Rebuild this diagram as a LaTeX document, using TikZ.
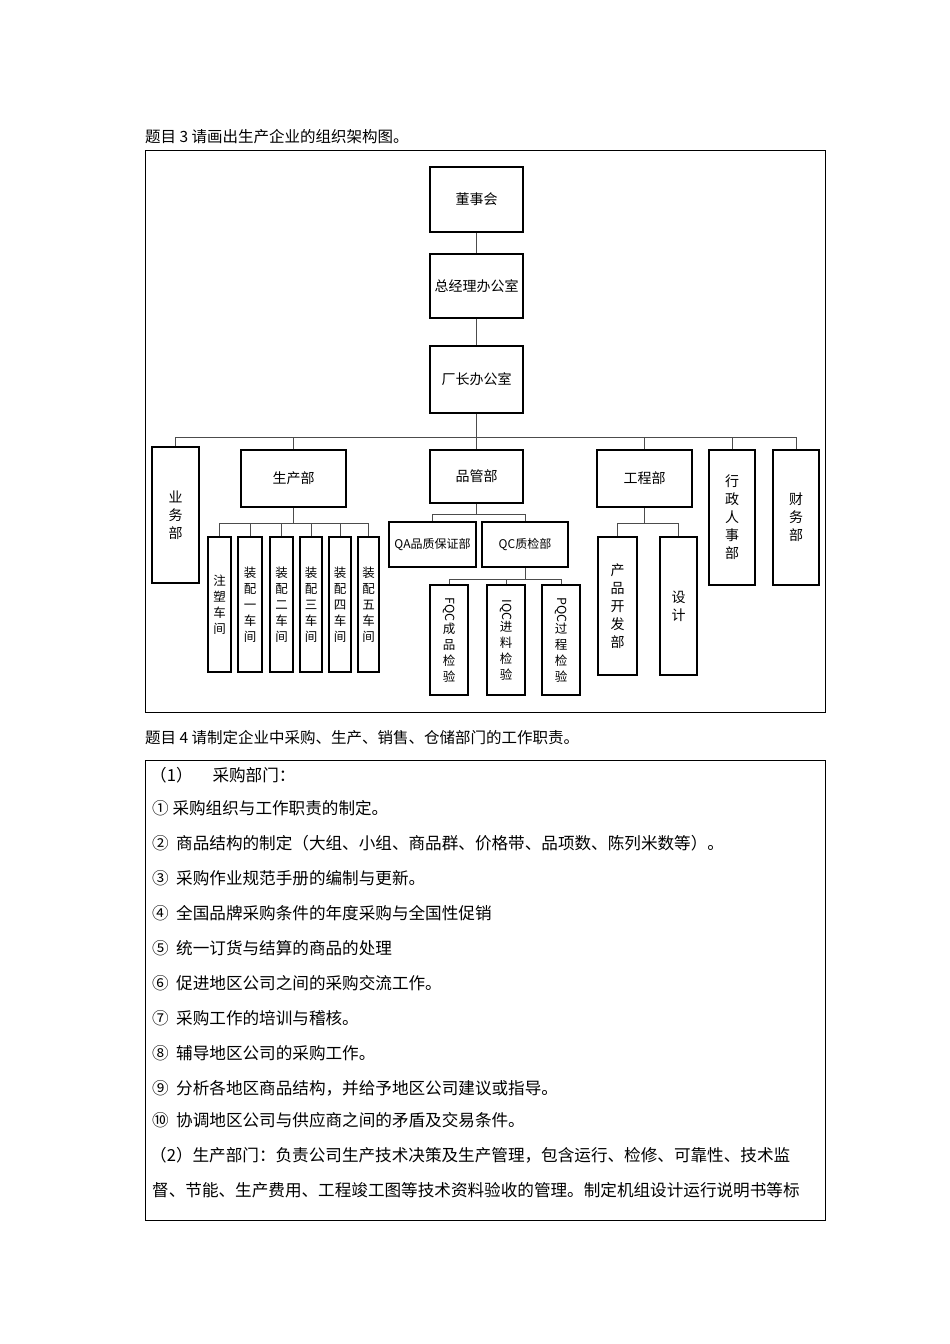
\documentclass[tikz,border=0pt]{standalone}
\usepackage{fontspec}
\usepackage{graphicx}
\newfontfamily\cjk{Noto Sans CJK SC}
\begin{document}
\begin{tikzpicture}[x=1pt,y=-1pt,
  bx/.style={draw,line width=1.6pt,inner sep=0pt,font=\cjk\fontsize{14}{18}\selectfont},
  ln/.style={line width=0.8pt,draw=black!70},
  txt/.style={anchor=west,inner sep=0pt,font=\cjk\fontsize{16.6}{18}\selectfont},
  ttl/.style={anchor=west,inner sep=0pt,font=\cjk\fontsize{15.5}{18}\selectfont}]
\useasboundingbox[fill=white] (0,0) rectangle (950,1344);
\node[ttl] (t3) at (145,137) {题目 3 请画出生产企业的组织架构图。};
\draw[line width=0.8pt] (145,150) rectangle (825,712);
% top chain
\node[bx,minimum width=93,minimum height=65] (a) at (476.5,199.5) {董事会};
\node[bx,minimum width=93,minimum height=64] (b) at (476.5,286) {总经理办公室};
\node[bx,minimum width=93,minimum height=67] (c) at (476.5,379.5) {厂长办公室};
\draw[ln] (a) -- (b); \draw[ln] (b) -- (c);
\coordinate (bus) at (476.5,437);
\draw[ln] (c) -- (bus);
\node[bx,minimum width=47,minimum height=136,align=center] (yw) at (175.5,515) {业\\务\\部};
\node[bx,minimum width=105,minimum height=57] (sc) at (293.5,478.5) {生产部};
\node[bx,minimum width=93,minimum height=53] (pg) at (476.5,476.5) {品管部};
\node[bx,minimum width=95,minimum height=57] (gc) at (644.5,478.5) {工程部};
\node[bx,minimum width=46,minimum height=135,align=center] (xz) at (732,517.5) {行\\政\\人\\事\\部};
\node[bx,minimum width=46,minimum height=135,align=center] (cw) at (796,517.5) {财\\务\\部};
\draw[ln] (yw.north) -- (yw.north|-bus) -- (cw.north|-bus) -- (cw.north);
\foreach \n in {sc,pg,gc,xz} \draw[ln] (\n.north) -- (\n.north|-bus);
% production workshops
\coordinate (sb) at (293.5,523);
\draw[ln] (sc.south) -- (sb);
\foreach \n/\x/\w/\t in {w1/219.5/23/注\\塑\\车\\间, w2/250/24/装\\配\\一\\车\\间, w3/281.5/23/装\\配\\二\\车\\间, w4/311/22/装\\配\\三\\车\\间, w5/340/22/装\\配\\四\\车\\间, w6/368.5/21/装\\配\\五\\车\\间}{
  \node[bx,minimum width=\w,minimum height=135,align=center,font=\cjk\fontsize{12.5}{16}\selectfont] (\n) at (\x,604.5) {\t};
}
\draw[ln] (w1.north) -- (w1.north|-sb) -- (w6.north|-sb) -- (w6.north);
\foreach \n in {w2,w3,w4,w5} \draw[ln] (\n.north) -- (\n.north|-sb);
% QA / QC
\coordinate (pb) at (476.5,514);
\draw[ln] (pg.south) -- (pb);
\node[bx,minimum width=87,minimum height=45,font=\cjk\fontsize{12}{14}\selectfont] (qa) at (432.5,544.5) {QA品质保证部};
\node[bx,minimum width=86,minimum height=45,font=\cjk\fontsize{12}{14}\selectfont] (qc) at (525,544.5) {QC质检部};
\draw[ln] (qa.north) -- (qa.north|-pb) -- (qc.north|-pb) -- (qc.north);
\coordinate (qb) at (525,579);
\draw[ln] (qc.south) -- (qb);
\foreach \n/\x/\a/\b in {f1/449/FQC/成\\品\\检\\验, f2/506/IQC/进\\料\\检\\验, f3/561/PQC/过\\程\\检\\验}{
  \node[bx,minimum width=38,minimum height=110,align=center,font=\cjk\fontsize{12.5}{16}\selectfont] (\n) at (\x,640) {\rotatebox{-90}{\a}\\\b};
}
\draw[ln] (f1.north) -- (f1.north|-qb) -- (f3.north|-qb) -- (f3.north);
\draw[ln] (f2.north) -- (f2.north|-qb);
% engineering
\coordinate (gb) at (644.5,523);
\draw[ln] (gc.south) -- (gb);
\node[bx,minimum width=39,minimum height=138,align=center] (e1) at (617.5,606) {产\\品\\开\\发\\部};
\node[bx,minimum width=37,minimum height=138,align=center] (e2) at (678.5,606) {设\\计};
\draw[ln] (e1.north) -- (e1.north|-gb) -- (e2.north|-gb) -- (e2.north);
% second part
\node[ttl] (t4) at (145,738) {题目 4 请制定企业中采购、生产、销售、仓储部门的工作职责。};
\draw[line width=0.8pt] (145,760) rectangle (825,1220);
\node[txt] (l0) at (150,775) {（1）\hspace{1.2em}采购部门：};
\node[txt] (l1) at (152,808) {① 采购组织与工作职责的制定。};
\node[txt] (l2) at (152,843) {② \ 商品结构的制定（大组、小组、商品群、价格带、品项数、陈列米数等）。};
\node[txt] (l3) at (152,878) {③ \ 采购作业规范手册的编制与更新。};
\node[txt] (l4) at (152,913) {④ \ 全国品牌采购条件的年度采购与全国性促销};
\node[txt] (l5) at (152,948) {⑤ \ 统一订货与结算的商品的处理};
\node[txt] (l6) at (152,983) {⑥ \ 促进地区公司之间的采购交流工作。};
\node[txt] (l7) at (152,1018) {⑦ \ 采购工作的培训与稽核。};
\node[txt] (l8) at (152,1053) {⑧ \ 辅导地区公司的采购工作。};
\node[txt] (l9) at (152,1088) {⑨ \ 分析各地区商品结构，并给予地区公司建议或指导。};
\node[txt] (l10) at (152,1120) {⑩ \ 协调地区公司与供应商之间的矛盾及交易条件。};
\node[txt] (l11) at (150,1155) {（2）生产部门：负责公司生产技术决策及生产管理，包含运行、检修、可靠性、技术监};
\node[txt] (l12) at (152,1190) {督、节能、生产费用、工程竣工图等技术资料验收的管理。制定机组设计运行说明书等标};
\end{tikzpicture}
\end{document}
